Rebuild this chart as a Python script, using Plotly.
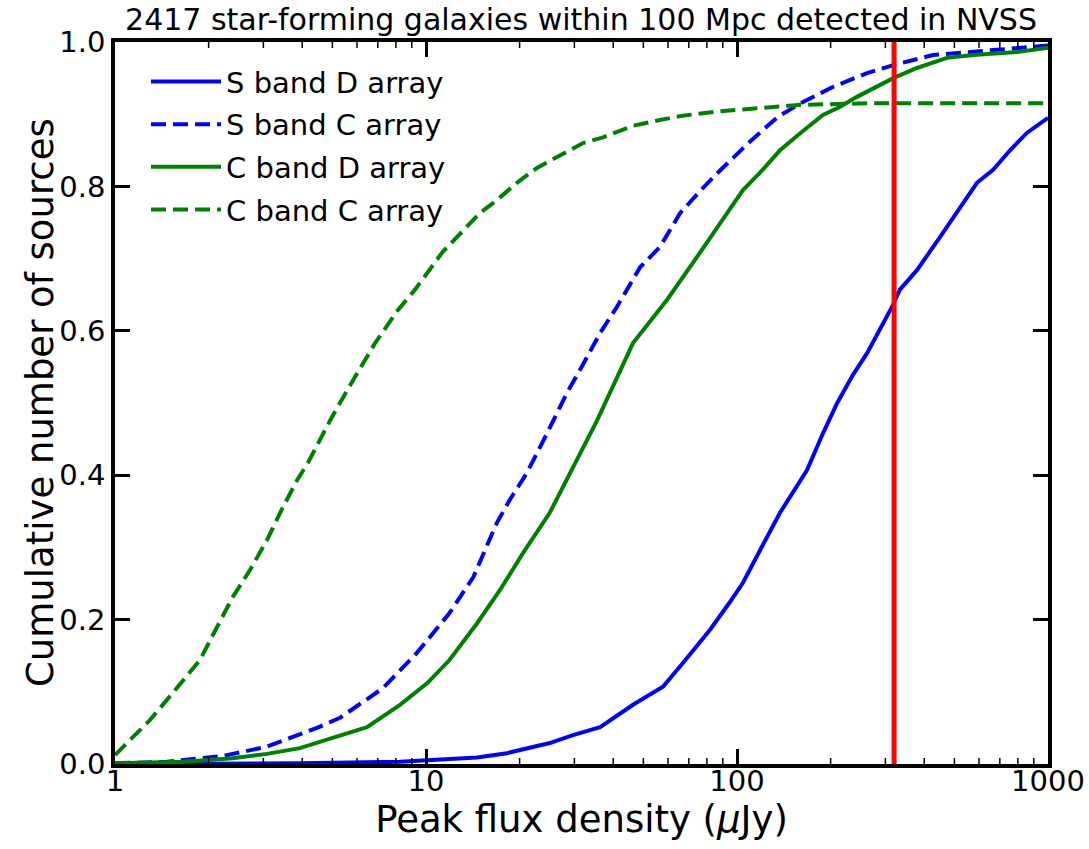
import plotly.graph_objects as go

# Cumulative fraction of sources vs. peak flux density (uJy)
s_d_flux = [1, 3.93, 8.25, 11.9, 14.6, 18.2, 25.0, 29.7, 36.3, 46.3, 57.8, 67, 81.9, 94.8,
            104.5, 118.6, 137.5, 168, 189, 210, 236, 262, 315, 334, 379, 450, 521, 591,
            666, 755, 855, 1000]
s_d_frac = [0.0, 0.001, 0.003, 0.006, 0.009, 0.015, 0.029, 0.04, 0.051, 0.082, 0.107, 0.14,
            0.186, 0.224, 0.251, 0.296, 0.348, 0.407, 0.458, 0.5, 0.539, 0.569, 0.633, 0.657,
            0.684, 0.730, 0.771, 0.805, 0.823, 0.850, 0.874, 0.895]

s_c_flux = [1, 1.47, 1.876, 2.22, 3.08, 4.46, 5.29, 7.27, 9.35, 11.9, 14.2, 16.9, 18.6, 21.1,
            24.5, 28.4, 31.3, 36.3, 41.1, 48.8, 56.5, 65.6, 77.8, 88.2, 110, 135, 160, 204,
            262, 318, 427, 549, 701, 964, 1000]
s_c_frac = [0.001, 0.003, 0.008, 0.011, 0.024, 0.05, 0.064, 0.105, 0.154, 0.209, 0.259, 0.334,
            0.366, 0.403, 0.458, 0.514, 0.546, 0.597, 0.633, 0.688, 0.716, 0.763, 0.798, 0.822,
            0.862, 0.896, 0.915, 0.938, 0.957, 0.968, 0.982, 0.986, 0.990, 0.994, 0.995]

c_d_flux = [1, 1.655, 2.39, 3.08, 3.93, 5.29, 6.46, 8.25, 10.1, 11.9, 14.6, 17.3, 20.5, 25.0,
            29.7, 35.5, 46.3, 59.6, 74.3, 88.2, 104.5, 118.6, 137.5, 160, 189, 214, 243, 318,
            379, 473, 574, 795, 1000]
c_d_frac = [0.001, 0.003, 0.008, 0.014, 0.022, 0.04, 0.051, 0.082, 0.112, 0.144, 0.195, 0.241,
            0.292, 0.348, 0.41, 0.476, 0.583, 0.643, 0.702, 0.748, 0.795, 0.819, 0.85, 0.874,
            0.899, 0.91, 0.924, 0.950, 0.964, 0.978, 0.982, 0.986, 0.992]

c_c_flux = [1, 1.296, 1.47, 1.655, 1.876, 2.13, 2.39, 2.72, 3.08, 3.47, 3.85, 4.17, 4.99, 5.91,
            6.86, 8.13, 9.22, 11.3, 12.9, 14.9, 16.9, 19.6, 22.8, 26.4, 32, 37.1, 46.3, 56.5,
            67, 88, 160, 262, 1000]
c_c_frac = [0.0125, 0.061, 0.089, 0.116, 0.144, 0.19, 0.231, 0.269, 0.31, 0.356, 0.393, 0.417,
            0.481, 0.536, 0.583, 0.629, 0.657, 0.709, 0.735, 0.763, 0.781, 0.805, 0.826, 0.841,
            0.86, 0.868, 0.884, 0.892, 0.898, 0.904, 0.913, 0.915, 0.915]

flux_limit = 320  # vertical marker (uJy)

x_major = [1, 10, 100, 1000]
x_major_text = ["1", "10", "100", "1000"]
x_minor = [m * d for d in (1, 10, 100) for m in range(2, 10)]
y_major = [0, 0.2, 0.4, 0.6, 0.8, 1.0]

series = [
    ("S band D array", s_d_flux, s_d_frac, "#0000ff", "solid"),
    ("S band C array", s_c_flux, s_c_frac, "#0000ff", "15px,7px"),
    ("C band D array", c_d_flux, c_d_frac, "#008000", "solid"),
    ("C band C array", c_c_flux, c_c_frac, "#008000", "15px,7px"),
]

FONT = "DejaVu Sans, Verdana, sans-serif"
PLOT_L, PLOT_R, PLOT_T, PLOT_B = 115, 1048, 42, 764
W, H = 1089, 849
MINOR_LEN = 6

fig = go.Figure()
for name, xs, ys, color, dash in series:
    fig.add_trace(go.Scatter(
        x=xs, y=ys, mode="lines", name=name, legendgroup=name,
        line=dict(color=color, width=4, dash=dash),
    ))

fig.add_shape(type="line", xref="x", yref="paper", x0=flux_limit, x1=flux_limit,
              y0=0, y1=1, line=dict(color="#ff0000", width=5), layer="above")

# minor log ticks (2..9 in each decade) on the bottom and top frame
for xm in x_minor:
    for anchor, sign in ((0, 1), (1, -1)):
        fig.add_shape(type="line", xref="x", yref="paper", ysizemode="pixel", yanchor=anchor,
                      x0=xm, x1=xm, y0=0, y1=sign * MINOR_LEN,
                      line=dict(color="black", width=1.5), layer="above")

axis_common = dict(
    showline=True, linecolor="black", linewidth=3.5, mirror="ticks",
    ticks="inside", ticklen=15, tickwidth=3, tickcolor="black",
    showgrid=False, zeroline=False, automargin=False,
    tickfont=dict(family=FONT, size=29, color="black"),
)

fig.update_layout(
    xaxis=dict(
        type="log", range=[0, 3],
        tickmode="array", tickvals=x_major, ticktext=x_major_text,
        ticklabelstandoff=-12,
        title=dict(text="Peak flux density (<i>μ</i>Jy)",
                   font=dict(family=FONT, size=37, color="black"), standoff=4),
        **axis_common,
    ),
    yaxis=dict(
        range=[0, 1], tickmode="array", tickvals=y_major, tickformat=".1f",
        **axis_common,
    ),
)

# y-axis title placed as a rotated label left of the tick labels
fig.add_annotation(
    text="Cumulative number of sources", textangle=-90,
    xref="paper", yref="paper", x=(40 - PLOT_L) / (PLOT_R - PLOT_L), y=0.5,
    xanchor="center", yanchor="middle", showarrow=False,
    font=dict(family=FONT, size=37, color="black"),
)

fig.update_layout(
    width=W, height=H,
    margin=dict(l=PLOT_L, r=W - PLOT_R, t=PLOT_T, b=H - PLOT_B),
    paper_bgcolor="white", plot_bgcolor="white",
    title=dict(text="2417 star-forming galaxies within 100 Mpc detected in NVSS",
               x=581 / W, xanchor="center", y=1 - 19 / H, yanchor="middle", yref="container",
               font=dict(family=FONT, size=30, color="black")),
    legend=dict(x=(146 - PLOT_L) / (PLOT_R - PLOT_L), y=0.9805, xanchor="left", yanchor="top",
                font=dict(family=FONT, size=29, color="black"),
                bgcolor="rgba(0,0,0,0)", borderwidth=0, tracegroupgap=2,
                itemwidth=70),
    showlegend=True,
)

fig.write_html("out.html")
